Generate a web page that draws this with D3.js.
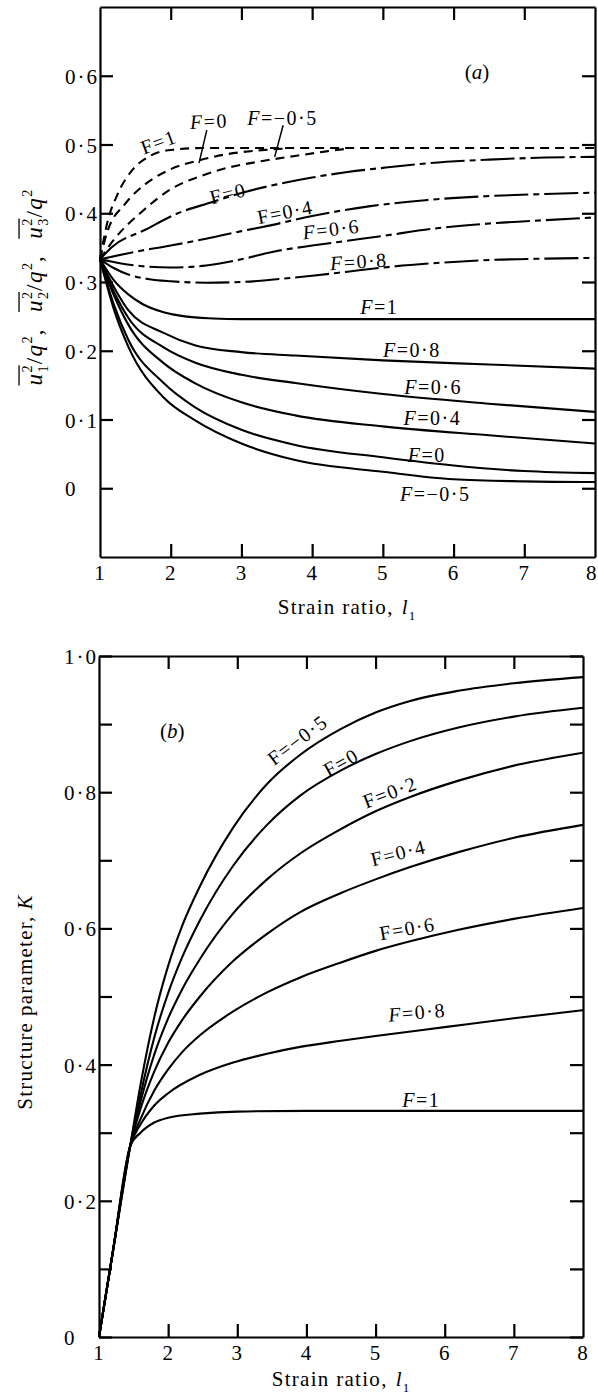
<!DOCTYPE html>
<html><head><meta charset="utf-8">
<script src="https://cdn.jsdelivr.net/npm/d3@7"></script>
<style>
body{margin:0;background:#fff}
svg{display:block}
</style></head>
<body><svg id="c" width="598" height="1398"></svg>
<script>
// ---------------- DATA ----------------
const strainLabels = [1,2,3,4,5,6,7,8];
const strainInnerTicks = [2,3,4,5,6,7];
const compTicks = [0,0.1,0.2,0.3,0.4,0.5,0.6];
const kTicks = [0.1,0.2,0.3,0.4,0.5,0.6,0.7,0.8,0.9];

// Panel (a): dashed curves (approach 0.5)
const a_dash_F1   = [[1,.333],[1.1,.385],[1.25,.428],[1.45,.462],[1.7,.483],[2,.492],[2.5,.495],[4,.495],[8,.495]];
const a_dash_F0   = [[1,.333],[1.1,.372],[1.35,.413],[1.65,.443],[2,.464],[2.4,.477],[2.8,.486],[3.2,.491],[3.6,.494]];
const a_dash_Fm05 = [[1,.333],[1.2,.362],[1.6,.403],[2,.435],[2.45,.455],[2.8,.466],[3.3,.476],[3.8,.484],[4.2,.490],[4.5,.494]];
// Panel (a): dash-dot curves
const a_dd_F0  = [[1,.333],[1.17,.351],[1.64,.376],[2.1,.40],[2.58,.416],[3.05,.431],[3.5,.442],[4,.452],[4.5,.46],[5,.466],[5.67,.473],[6.5,.478],[7.3,.481],[8,.482]];
const a_dd_F04 = [[1,.333],[1.5,.344],[2,.353],[2.5,.363],[3,.374],[3.3,.38],[4,.396],[4.8,.41],[5.6,.419],[6.5,.425],[7.3,.428],[8,.43]];
const a_dd_F06 = [[1,.333],[1.3,.327],[1.6,.323],[2,.321],[2.5,.324],[3,.333],[3.5,.345],[4,.353],[4.5,.36],[5,.367],[5.67,.377],[6.5,.385],[7.3,.39],[8,.394]];
const a_dd_F08 = [[1,.333],[1.2,.32],[1.4,.311],[1.7,.304],[2,.301],[2.5,.299],[3,.300],[3.5,.304],[4,.309],[4.5,.315],[5,.321],[5.67,.327],[6.5,.332],[7.3,.334],[8,.335]];
// Panel (a): solid curves
const a_sol_F1   = [[1,.333],[1.2,.302],[1.4,.282],[1.6,.268],[1.9,.256],[2.2,.25],[2.6,.247],[3,.246],[4,.246],[8,.246]];
const a_sol_F08  = [[1,.333],[1.2,.292],[1.4,.259],[1.9,.226],[2.34,.208],[3,.198],[3.76,.193],[5,.186],[6.5,.18],[8,.174]];
const a_sol_F06  = [[1,.333],[1.2,.285],[1.4,.248],[1.9,.205],[2.34,.183],[3,.165],[3.76,.153],[5,.137],[6.5,.123],[8,.111]];
const a_sol_F04  = [[1,.333],[1.2,.28],[1.4,.238],[1.9,.182],[2.34,.153],[3,.125],[3.76,.106],[5,.09],[6.5,.077],[8,.065]];
const a_sol_F0   = [[1,.333],[1.2,.266],[1.4,.216],[1.9,.153],[2.34,.118],[3,.085],[3.76,.063],[5,.045],[6,.033],[7,.025],[8,.022]];
const a_sol_Fm05 = [[1,.333],[1.2,.259],[1.4,.206],[1.9,.132],[2.34,.099],[3,.065],[3.76,.041],[5,.024],[6,.013],[7,.010],[8,.009]];

// Panel (b): structure parameter K
const b_Fm05 = [[1,0],[1.2,.125],[1.45,.28],[1.6,.37],[1.8,.47],[2,.545],[2.2,.603],[2.46,.662],[2.94,.748],[3.43,.812],[3.91,.855],[4.5,.893],[5,.917],[5.5,.934],[6.2,.949],[7,.96],[8,.969]];
const b_F0   = [[1,0],[1.2,.125],[1.45,.28],[1.6,.355],[1.8,.44],[2,.505],[2.2,.557],[2.46,.612],[2.94,.692],[3.43,.752],[3.91,.795],[4.5,.832],[5,.856],[5.5,.875],[6.2,.895],[7,.911],[8,.924]];
const b_F02  = [[1,0],[1.2,.125],[1.45,.28],[1.6,.345],[1.8,.415],[2,.468],[2.2,.51],[2.46,.555],[2.94,.622],[3.43,.672],[3.91,.71],[4.5,.746],[5,.772],[5.5,.793],[6.2,.817],[7,.839],[8,.858]];
const b_F04  = [[1,0],[1.2,.125],[1.45,.28],[1.6,.335],[1.8,.39],[2,.432],[2.2,.465],[2.46,.50],[2.94,.552],[3.43,.592],[3.91,.624],[4.5,.652],[5,.672],[5.5,.69],[6.2,.712],[7,.733],[8,.752]];
const b_F06  = [[1,0],[1.2,.125],[1.45,.28],[1.6,.32],[1.8,.362],[2,.393],[2.2,.418],[2.46,.443],[2.94,.478],[3.43,.506],[3.91,.528],[4.5,.55],[5,.567],[5.5,.581],[6.2,.598],[7,.614],[8,.63]];
const b_F08  = [[1,0],[1.2,.125],[1.45,.28],[1.6,.312],[1.8,.34],[2,.358],[2.46,.385],[2.94,.403],[3.43,.416],[3.91,.426],[4.5,.435],[5,.442],[6,.455],[7,.468],[8,.48]];
const b_F1   = [[1,0],[1.2,.125],[1.45,.28],[1.6,.30],[1.8,.315],[2,.322],[2.46,.328],[3,.331],[4,.332],[8,.332]];

// Label texts with data-space anchors [text, l, value, angle, italicF]
const a_labels = [
  ["F=1",        1.83, .504, -20, false],
  ["F=0",        2.54, .534, -3, true],
  ["F=\u22120\u00b75", 3.58, .539, 0, true],
  ["F=0",        2.81, .429, -14, false],
  ["F=0\u00b74", 3.62, .402, -11, false],
  ["F=0\u00b76", 4.27, .377, -7, true],
  ["F=0\u00b78", 4.66, .330, -4, true],
  ["F=1",        4.95, .263, 0, true],
  ["F=0\u00b78", 5.41, .201, 0, true],
  ["F=0\u00b76", 5.71, .147, 0, true],
  ["F=0\u00b74", 5.70, .102, 0, true],
  ["F=0",        5.62, .048, 0, true],
  ["F=\u22120\u00b75", 5.74, -.009, 0, true]
];
const a_pointers = [[2.51,.521,2.40,.473],[3.59,.528,3.47,.482]];
const b_labels = [
  ["F=\u22120\u00b75", 3.87, .877, -37, false],
  ["F=0",        4.50, .844, -29, false],
  ["F=0\u00b72", 5.21, .800, -21, false],
  ["F=0\u00b74", 5.33, .711, -14, false],
  ["F=0\u00b76", 5.46, .600, -10, false],
  ["F=0\u00b78", 5.60, .477, -5, true],
  ["F=1",        5.66, .348, 0, true]
];

// ---------------- DRAW ----------------
const FONT = '"Liberation Serif", serif';
const svg = d3.select("#c");
const INK = "#000";
const TICK = 13;
const fmt = d => d === 0 ? "0" : d3.format(".1f")(d).replace(".", "\u00b7");

function styleAxis(g){
  g.selectAll(".domain").attr("stroke", INK).attr("stroke-width", 2.2);
  g.selectAll(".tick line").attr("stroke", INK).attr("stroke-width", 2.2);
  g.attr("font-family", null).attr("font-size", null);
  g.selectAll("text").style("font-family", FONT).style("font-size", "21px").style("letter-spacing", "2px").attr("fill", INK);
}

function richLabel(g, runs, fs, ls){
  let x = 0, ov = null; const bars = [];
  runs.forEach(r => {
    if (r.ob) ov = x;
    if (r.gap){ x += r.gap; return; }
    if (r.t !== undefined){
      const e = g.append("text").attr("x", x).attr("y", 0).attr("fill", INK)
        .style("font-family", FONT)
        .style("font-size", fs+"px").style("font-style", r.it ? "italic" : "normal")
        .style("letter-spacing", ls+"px").text(r.t);
      x += e.node().getComputedTextLength();
    } else {
      const sfs = fs*0.62; let w = 0;
      if (r.sup){ const e = g.append("text").attr("x", x).attr("y", -fs*0.42).attr("fill", INK).style("font-family", FONT).style("font-size", sfs+"px").text(r.sup); w = Math.max(w, e.node().getComputedTextLength()); }
      if (r.sub){ const e = g.append("text").attr("x", x).attr("y", fs*0.28).attr("fill", INK).style("font-family", FONT).style("font-size", sfs+"px").text(r.sub); w = Math.max(w, e.node().getComputedTextLength()); }
      x += w + 1;
    }
    if (r.oe) bars.push([ov, x]);
  });
  bars.forEach(b => g.append("line").attr("x1", b[0]).attr("x2", b[1]-1).attr("y1", -fs*0.98).attr("y2", -fs*0.98)
     .attr("stroke", INK).attr("stroke-width", 1.3));
  return x;
}
function placeRich(cx, cy, rot, runs, fs, ls){
  const g = svg.append("g").attr("transform", `translate(${cx},${cy}) rotate(${rot})`);
  const inner = g.append("g");
  const w = richLabel(inner, runs, fs, ls);
  inner.attr("transform", `translate(${-w/2},${fs*0.33})`);
}

function panel(opt){
  const {x, y, yTicks, yLabelFmt, series, labels, pointers} = opt;
  const [x0, x1] = x.range(), [y0, y1] = y.range();
  const nearEdge = x1 > 590;
  svg.append("g").attr("transform", `translate(0,${y0})`)
    .call(d3.axisBottom(x).tickValues(strainLabels).tickSizeInner(-TICK).tickSizeOuter(0).tickPadding(8).tickFormat(d3.format("d")))
    .call(styleAxis)
    .call(g => g.selectAll(".tick").filter(d => d === 1 || d === 8).select("line").remove())
    .call(g => { if (nearEdge) g.selectAll(".tick").filter(d => d === 8).select("text").attr("text-anchor", "end").attr("dx", 1).style("letter-spacing", "0px"); });
  svg.append("g").attr("transform", `translate(0,${y1})`)
    .call(d3.axisTop(x).tickValues(strainInnerTicks).tickSizeInner(-TICK).tickSizeOuter(0).tickFormat(""))
    .call(styleAxis);
  svg.append("g").attr("transform", `translate(${x0},0)`)
    .call(d3.axisLeft(y).tickValues(yTicks).tickSizeInner(-TICK).tickSizeOuter(0).tickFormat(yLabelFmt))
    .call(styleAxis)
    .call(g => g.selectAll("text").attr("text-anchor", "start").attr("x", -35).attr("dy", "0.36em"));
  svg.append("g").attr("transform", `translate(${x1},0)`)
    .call(d3.axisRight(y).tickValues(yTicks).tickSizeInner(-TICK).tickSizeOuter(0).tickFormat(""))
    .call(styleAxis);
  const line = d3.line().x(d => x(d[0])).y(d => y(d[1])).curve(d3.curveMonotoneX);
  series.forEach(s => {
    svg.append("path").attr("d", line(s.data)).attr("fill", "none").attr("stroke", INK)
      .attr("stroke-width", 2.1).attr("stroke-dasharray", s.dash || null);
  });
  (pointers || []).forEach(p => {
    svg.append("line").attr("x1", x(p[0])).attr("y1", y(p[1])).attr("x2", x(p[2])).attr("y2", y(p[3]))
      .attr("stroke", INK).attr("stroke-width", 1.5);
  });
  labels.forEach(([t, l, v, ang, it]) => {
    const tx = svg.append("text").attr("transform", `translate(${x(l)},${y(v)}) rotate(${ang})`)
      .attr("text-anchor", "middle").attr("dy", "0.35em").attr("fill", INK)
      .style("font-family", FONT).style("font-size", "20px").style("letter-spacing", "1.5px");
    tx.append("tspan").style("font-style", it ? "italic" : "normal").text(t.slice(0,1));
    tx.append("tspan").text(t.slice(1));
  });
}

// Panel (a)
const xA = d3.scaleLinear([1,8],[100,595]);
const yA = d3.scaleLinear([-0.1,0.7],[557,7]);
const DASH = "9,6", DDOT = "34,5,6,5";
panel({
  x: xA, y: yA, yTicks: compTicks, yLabelFmt: fmt,
  series: [
    {data: a_dash_F1, dash: DASH}, {data: a_dash_F0, dash: DASH}, {data: a_dash_Fm05, dash: DASH},
    {data: a_dd_F0, dash: DDOT}, {data: a_dd_F04, dash: DDOT}, {data: a_dd_F06, dash: DDOT}, {data: a_dd_F08, dash: DDOT},
    {data: a_sol_F1}, {data: a_sol_F08}, {data: a_sol_F06}, {data: a_sol_F04}, {data: a_sol_F0}, {data: a_sol_Fm05}
  ],
  labels: a_labels, pointers: a_pointers
});
{
  const t = svg.append("text").attr("x", xA(6.33)).attr("y", yA(0.606)).attr("dy","0.35em").attr("text-anchor","middle")
    .attr("fill", INK).style("font-family", FONT).style("font-size","21px");
  t.append("tspan").text("("); t.append("tspan").style("font-style","italic").text("a"); t.append("tspan").text(")");
}

// Panel (b)
const xB = d3.scaleLinear([1,8],[99,583]);
const yB = d3.scaleLinear([0,1],[1337,656]);
panel({
  x: xB, y: yB, yTicks: kTicks.concat([0,1]), yLabelFmt: d => (Math.round(d*10) % 2 === 0) ? fmt(d) : "",
  series: [{data: b_Fm05},{data: b_F0},{data: b_F02},{data: b_F04},{data: b_F06},{data: b_F08},{data: b_F1}],
  labels: b_labels
});
{
  const t = svg.append("text").attr("x", xB(2.06)).attr("y", yB(0.891)).attr("dy","0.35em").attr("text-anchor","middle")
    .attr("fill", INK).style("font-family", FONT).style("font-size","21px");
  t.append("tspan").text("("); t.append("tspan").style("font-style","italic").text("b"); t.append("tspan").text(")");
}

// Axis titles
const xTitle = [{t:"Strain ratio,"},{gap:8},{t:"l", it:true},{sub:"1"}];
placeRich(347, 607, 0, xTitle, 21, 1.3);
placeRich(341, 1379, 0, xTitle, 21, 1.3);
placeRich(25, 1002, -90, [{t:"Structure"},{gap:6},{t:"parameter,"},{gap:6},{t:"K", it:true}], 21, 1.2);
const grp = i => [{t:"u", it:true, ob:true},{sup:"2", sub:String(i), oe:true},{t:"/"},{t:"q", it:true},{sup:"2"}];
placeRich(34, 287, -90, [...grp(1),{t:","},{gap:16},...grp(2),{t:","},{gap:16},...grp(3)], 23, 1.5);
</script>
</body></html>
